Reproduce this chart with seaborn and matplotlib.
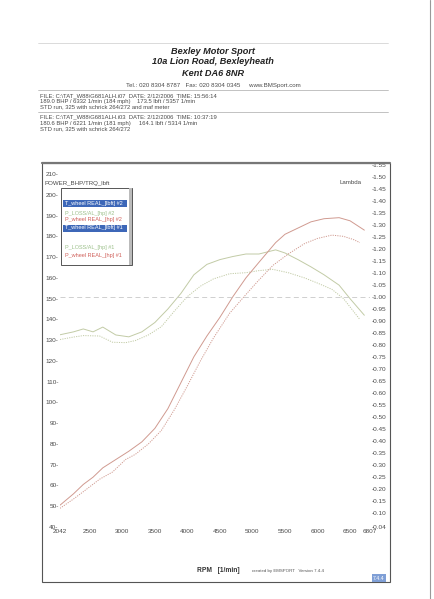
import matplotlib
matplotlib.use("Agg")
import matplotlib.pyplot as plt
import seaborn as sns
import pandas as pd
from matplotlib.patches import Rectangle
from matplotlib.lines import Line2D

# ---- data ----
rpm_run1 = [2042, 2250, 2400, 2550, 2700, 2900, 3100, 3300, 3500, 3700, 3900, 4100, 4300,
            4500, 4700, 4900, 5100, 5357, 5500, 5700, 5900, 6100, 6332, 6500, 6720]
torque_run1 = [132.6, 134.0, 135.4, 134.0, 136.3, 132.5, 131.6, 134.0, 138.5, 145.0, 152.5,
               161.5, 166.5, 168.8, 170.3, 171.5, 171.5, 173.5, 172.0, 168.8, 165.3, 161.5,
               156.5, 150.0, 142.0]
power_run1 = [50.5, 56.0, 60.5, 64.0, 68.5, 72.5, 76.5, 81.0, 87.5, 97.0, 109.5, 122.0, 132.0,
              141.0, 151.0, 160.0, 167.5, 177.0, 181.0, 184.0, 187.0, 188.5, 189.0, 187.5, 183.0]

rpm_run2 = [2042, 2250, 2400, 2650, 2850, 3050, 3200, 3400, 3600, 3800, 4000, 4200, 4400,
            4650, 4900, 5100, 5314, 5550, 5800, 6000, 6221, 6400, 6550, 6650]
torque_run2 = [130.3, 131.5, 132.2, 132.0, 129.0, 128.8, 129.8, 132.5, 136.5, 144.0, 151.0,
               156.0, 159.5, 162.0, 162.5, 163.5, 164.1, 162.5, 160.0, 157.5, 154.5, 150.0,
               144.0, 140.0]
power_run2 = [49.0, 53.5, 57.0, 63.0, 66.5, 72.5, 75.0, 80.0, 86.5, 96.5, 108.0, 120.0, 131.0,
              143.0, 152.0, 159.0, 166.0, 171.5, 176.5, 179.0, 180.6, 180.0, 178.5, 177.0]

x_ticks = [2042, 2500, 3000, 3500, 4000, 4500, 5000, 5500, 6000, 6500, 6807]
y_ticks = list(range(40, 211, 10))
lambda_ticks = [0.04] + [round(0.10 + 0.05 * i, 2) for i in range(30)]
lambda_ref = 1.0

header_lines = ["Bexley Motor Sport", "10a Lion Road, Bexleyheath", "Kent DA6 8NR"]
tel_line = "Tel.: 020 8304 8787   Fax: 020 8304 0345     www.BMSport.com"
file1_lines = ["FILE: C:\\TAT_W88\\G681ALH.i07  DATE: 2/12/2006  TIME: 15:56:14",
               "189.0 BHP / 6332 1/min (184 mph)    173.5 lbft / 5357 1/min",
               "STD run, 325 with schrick 264/272 and maf meter"]
file2_lines = ["FILE: C:\\TAT_W88\\G681ALH.i03  DATE: 2/12/2006  TIME: 10:37:19",
               "180.6 BHP / 6221 1/min (181 mph)     164.1 lbft / 5314 1/min",
               "STD run, 325 with schrick 264/272"]
legend_rows = ["T_wheel REAL_[lbft] #2", "P_LOSS/AL_[hp] #2", "P_wheel REAL_[hp] #2",
               "T_wheel REAL_[lbft] #1", "", "P_LOSS/AL_[hp] #1", "P_wheel REAL_[hp] #1"]

TORQUE_C = "#c2cba6"
POWER_C = "#d09a90"
TEXT_C = "#4a4a4a"

df1 = pd.DataFrame({"rpm": rpm_run1, "torque": torque_run1, "power": power_run1})
df2 = pd.DataFrame({"rpm": rpm_run2, "torque": torque_run2, "power": power_run2})

W, H = 435, 599
sns.set_style("white")
plt.rcParams["font.family"] = ["Liberation Sans", "DejaVu Sans"]


def fx(x):
    return x / W


def fy(y):
    return 1 - y / H


fig = plt.figure(figsize=(W / 100, H / 100), dpi=100)
fig.patch.set_facecolor("white")

# main plot area (2042..6807 rpm, 40..214 units)
ax = fig.add_axes([fx(60), fy(527), (370 - 60) / W, (527 - 165) / H])
ax.set_facecolor("none")
sns.lineplot(data=df1, x="rpm", y="torque", ax=ax, color=TORQUE_C, lw=0.7)
sns.lineplot(data=df2, x="rpm", y="torque", ax=ax, color=TORQUE_C, lw=0.7,
             linestyle=(0, (1.2, 1.2)))
sns.lineplot(data=df1, x="rpm", y="power", ax=ax, color=POWER_C, lw=0.7)
sns.lineplot(data=df2, x="rpm", y="power", ax=ax, color=POWER_C, lw=0.7,
             linestyle=(0, (1.2, 1.2)))
ax.set_xlim(2042, 6807)
ax.set_ylim(40, 40 + (527 - 165) / 2.076)
ax.set_xticks(x_ticks)
ax.set_xticklabels([str(t) for t in x_ticks])
ax.set_yticks(y_ticks)
ax.set_yticklabels([f"{t}-" for t in y_ticks])
ax.tick_params(axis="y", length=0, pad=1, labelsize=4.6, labelcolor=TEXT_C)
ax.tick_params(axis="x", direction="in", length=2.5, width=0.5, color="#888888",
               pad=1.5, labelsize=4.6, labelcolor=TEXT_C)
ax.set_xlabel("")
ax.set_ylabel("")
for s in ax.spines.values():
    s.set_visible(False)

ax2 = ax.twinx()
ax2.set_ylim(0.04, 1.55)
ax2.axhline(lambda_ref, color="#c8c8c8", lw=0.6, ls=(0, (6, 4)))
ax2.set_yticks(lambda_ticks)
ax2.set_yticklabels([f"-{t:.2f}" for t in lambda_ticks])
ax2.tick_params(axis="y", length=0, pad=1.5, labelsize=4.6, labelcolor=TEXT_C)
for s in ax2.spines.values():
    s.set_visible(False)

# outer frame of the graph
fig.patches.append(Rectangle((fx(42), fy(582)), (390 - 42) / W, (582 - 163) / H,
                             transform=fig.transFigure, fill=False, ec="#555555", lw=0.8))
fig.add_artist(Line2D([fx(42), fx(390)], [fy(163), fy(163)], color="#777777", lw=1.6))
fig.text(fx(45), fy(184), "POWER_BHP/TRQ_lbft", fontsize=4.4, color=TEXT_C, va="center")
fig.text(fx(362), fy(183), "Lambda", fontsize=4.4, color=TEXT_C, va="center", ha="right")
fig.text(fx(218), fy(571), "RPM   [1/min]", fontsize=4.8, color="#333333", weight="bold",
         ha="center", va="center")
fig.text(fx(288), fy(571), "created by EMSPORT   Version 7.4.4", fontsize=3.2,
         color="#555555", ha="center", va="center")
fig.text(fx(379), fy(578), "7.4.4", fontsize=3.8, color="white", ha="center", va="center",
         bbox=dict(boxstyle="square,pad=0.25", fc="#7f9fd6", ec="none"))

# legend box
leg_x0, leg_x1, leg_y0, leg_y1 = 61, 132, 188, 265
fig.patches.append(Rectangle((fx(leg_x0), fy(leg_y1)), (leg_x1 - leg_x0) / W,
                             (leg_y1 - leg_y0) / H, transform=fig.transFigure,
                             fc="white", ec="#555555", lw=0.7, zorder=5))
fig.patches.append(Rectangle((fx(leg_x1 - 3), fy(leg_y1)), 3 / W, (leg_y1 - leg_y0) / H,
                             transform=fig.transFigure, fc="#bbbbbb", ec="none", zorder=5))
row_y = [203, 213, 220, 228, 238, 248, 255]
row_c = ["white", "#9cc08a", "#d0605a", "white", "white", "#9cc08a", "#d0605a"]
for label, yy, cc in zip(legend_rows, row_y, row_c):
    if cc == "white" and label:
        fig.patches.append(Rectangle((fx(leg_x0 + 2), fy(yy + 3.5)), (leg_x1 - leg_x0 - 7) / W,
                                     7 / H, transform=fig.transFigure, fc="#3d67b8",
                                     ec="none", zorder=6))
    fig.text(fx(leg_x0 + 4), fy(yy), label, fontsize=4.0, color=cc, va="center", zorder=7)

# header block
fig.add_artist(Line2D([fx(38), fx(388)], [fy(43), fy(43)], color="#cccccc", lw=0.5))
for txt, yy in zip(header_lines, [51, 62, 73]):
    fig.text(fx(213), fy(yy), txt, fontsize=6.6, weight="bold", style="italic",
             color="#222222", ha="center", va="center")
fig.text(fx(213), fy(85), tel_line, fontsize=4.4, color=TEXT_C, ha="center", va="center")
fig.add_artist(Line2D([fx(38), fx(388)], [fy(90), fy(90)], color="#aaaaaa", lw=0.5))
for txt, yy in zip(file1_lines, [96, 102, 107]):
    fig.text(fx(40), fy(yy), txt, fontsize=4.2, color=TEXT_C, va="center")
fig.add_artist(Line2D([fx(38), fx(388)], [fy(112), fy(112)], color="#aaaaaa", lw=0.5))
for txt, yy in zip(file2_lines, [117, 123, 129]):
    fig.text(fx(40), fy(yy), txt, fontsize=4.2, color=TEXT_C, va="center")

# scanned page edge
fig.add_artist(Line2D([fx(430), fx(430)], [fy(0), fy(599)], color="#999999", lw=0.8))

fig.savefig("out.png", dpi=100)
